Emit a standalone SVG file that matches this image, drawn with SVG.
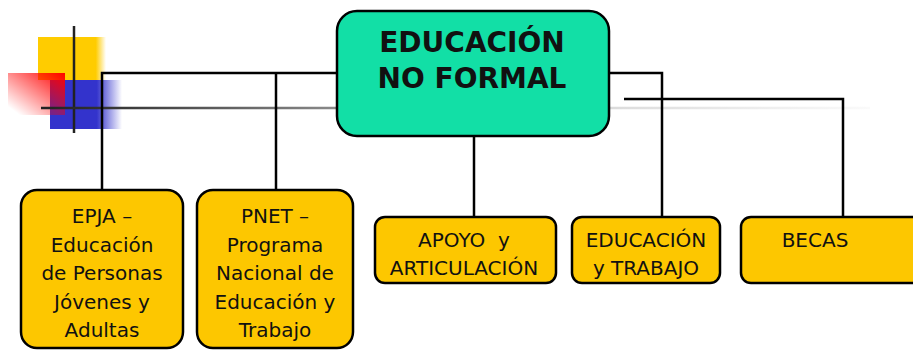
<svg xmlns="http://www.w3.org/2000/svg" width="913" height="350" viewBox="0 0 913 350">
<defs>
<linearGradient id="gY" x1="0" y1="0" x2="1" y2="0"><stop offset="0.85" stop-color="#FFCC00"/><stop offset="1" stop-color="#FFCC00" stop-opacity="0"/></linearGradient>
<linearGradient id="gB" x1="0" y1="0" x2="1" y2="0"><stop offset="0.65" stop-color="#3333CC"/><stop offset="1" stop-color="#3333CC" stop-opacity="0"/></linearGradient>
<linearGradient id="gR" x1="1" y1="0" x2="0" y2="1"><stop offset="0" stop-color="#FF0000"/><stop offset="0.9" stop-color="#FF0000" stop-opacity="0"/></linearGradient>
<linearGradient id="gL" gradientUnits="userSpaceOnUse" x1="41" y1="0" x2="870" y2="0"><stop offset="0" stop-color="#222"/><stop offset="0.08" stop-color="#333"/><stop offset="0.35" stop-color="#888"/><stop offset="0.7" stop-color="#ddd"/><stop offset="1" stop-color="#fafafa"/></linearGradient>
</defs>
<style>
.main{fill:#12DFA6;stroke:#000;stroke-width:2.5}
.box{fill:#FDC700;stroke:#000;stroke-width:2.5}
.t{font-family:"DejaVu Sans",Verdana,sans-serif;font-size:20px;fill:#111;text-anchor:middle}
.tb{font-family:"DejaVu Sans",Verdana,sans-serif;font-size:28px;font-weight:bold;fill:#111;text-anchor:middle}
.c{fill:none;stroke:#000;stroke-width:2.5}
</style>
<rect width="913" height="350" fill="#fff"/>
<g id="decor">
<rect x="38" y="37" width="68" height="43" fill="url(#gY)"/>
<rect x="50" y="80" width="72" height="49" fill="url(#gB)"/>
<rect x="8" y="73" width="57" height="42" fill="url(#gR)"/>
<line x1="74" y1="26" x2="74" y2="133" stroke="#222" stroke-width="2.5"/>
<line x1="41" y1="108" x2="870" y2="108" stroke="url(#gL)" stroke-width="2.5"/>
</g>
<g id="connectors">
<polyline class="c" points="102,190 102,73 337,73"/>
<line class="c" x1="276" y1="73" x2="276" y2="190"/>
<line class="c" x1="474" y1="136" x2="474" y2="217"/>
<polyline class="c" points="609,73 662,73 662,217"/>
<polyline class="c" points="624,99 843,99 843,217"/>
</g>
<g id="main">
<rect class="main" x="337" y="11" width="272" height="125" rx="20"/>
<text class="tb" x="472" y="52">EDUCACIÓN</text>
<text class="tb" x="472" y="88">NO FORMAL</text>
</g>
<g id="epja">
<rect class="box" x="21" y="190" width="162" height="158" rx="16"/>
<text class="t" x="102" y="223">EPJA –</text>
<text class="t" x="102" y="252">Educación</text>
<text class="t" x="102" y="280">de Personas</text>
<text class="t" x="102" y="309">Jóvenes y</text>
<text class="t" x="102" y="337">Adultas</text>
</g>
<g id="pnet">
<rect class="box" x="197" y="190" width="156" height="158" rx="16"/>
<text class="t" x="275" y="223">PNET –</text>
<text class="t" x="275" y="252">Programa</text>
<text class="t" x="275" y="280">Nacional de</text>
<text class="t" x="275" y="309">Educación y</text>
<text class="t" x="275" y="337">Trabajo</text>
</g>
<g id="apoyo">
<rect class="box" x="375" y="217" width="181" height="66" rx="10"/>
<text class="t" x="464" y="247" xml:space="preserve">APOYO  y</text>
<text class="t" x="464" y="275">ARTICULACIÓN</text>
</g>
<g id="edtrabajo">
<rect class="box" x="572" y="217" width="148" height="66" rx="10"/>
<text class="t" x="646" y="247">EDUCACIÓN</text>
<text class="t" x="646" y="275">y TRABAJO</text>
</g>
<g id="becas">
<rect class="box" x="741" y="217" width="185" height="66" rx="10"/>
<text class="t" x="815" y="247">BECAS</text>
</g>
</svg>
